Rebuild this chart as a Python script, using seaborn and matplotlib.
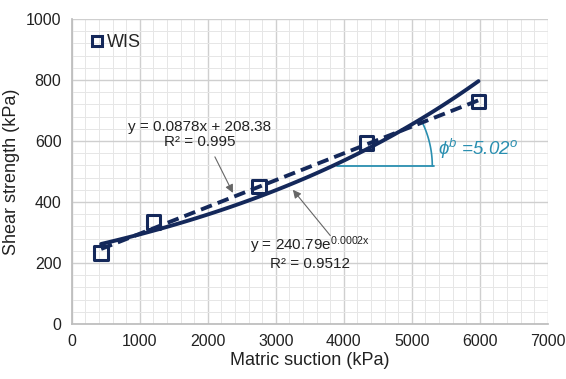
import numpy as np
import pandas as pd
import matplotlib
matplotlib.use("Agg")
import matplotlib.pyplot as plt
import seaborn as sns
from matplotlib.lines import Line2D
from matplotlib.ticker import MultipleLocator

# Data
suction = [430, 1200, 2750, 4330, 5980]
strength = [233, 334, 451, 593, 730]
series_name = "WIS"
lin_slope, lin_icpt = 0.0878, 208.38
exp_a, exp_b = 240.79, 0.0002
lin_label = "y = 0.0878x + 208.38\nR² = 0.995"
exp_label = "y = 240.79e$^{\\mathrm{0.0002x}}$\nR² = 0.9512"
angle_label = "ϕ$^b$ =5.02$^o$"
x_ticks = [0, 1000, 2000, 3000, 4000, 5000, 6000, 7000]
y_ticks = [0, 200, 400, 600, 800, 1000]

sns.set_theme(style="white")
plt.rcParams['font.family'] = ['Liberation Sans', 'DejaVu Sans']
plt.rcParams['mathtext.fontset'] = 'custom'
plt.rcParams['mathtext.rm'] = 'Liberation Sans'
plt.rcParams['mathtext.it'] = 'Liberation Sans:italic'

navy = '#14285a'
teal = '#2a8fb0'

fig = plt.figure(figsize=(5.66, 3.79), dpi=100)
ax = fig.add_axes([0.127, 0.145, 0.841, 0.805])

df = pd.DataFrame({"x": suction, "y": strength})
xs = np.linspace(min(suction), max(suction), 100)
fit = pd.DataFrame({"x": xs,
                    "lin": lin_slope * xs + lin_icpt,
                    "exp": exp_a * np.exp(exp_b * xs)})

sns.lineplot(data=fit, x="x", y="exp", ax=ax, color=navy, lw=2.8, zorder=3)
sns.lineplot(data=fit, x="x", y="lin", ax=ax, color=navy, lw=2.8,
             linestyle=(0, (3, 1.6)), zorder=3)
sns.scatterplot(data=df, x="x", y="y", ax=ax, marker='s', s=95,
                facecolor='none', edgecolor=navy, linewidth=2.2, zorder=4)

ax.set_xlim(0, 7000)
ax.set_ylim(0, 1000)
ax.set_xticks(x_ticks)
ax.set_yticks(y_ticks)
ax.xaxis.set_minor_locator(MultipleLocator(200))
ax.yaxis.set_minor_locator(MultipleLocator(40))
ax.grid(which='major', color='#cfcfcf', lw=1.0)
ax.grid(which='minor', color='#e6e6e6', lw=0.7)
ax.set_axisbelow(True)
for s in ax.spines.values():
    s.set_visible(False)
for side in ('bottom', 'left'):
    ax.spines[side].set_visible(True)
    ax.spines[side].set_color('#bdbdbd')
ax.tick_params(axis='both', which='major', length=4, color='#bdbdbd',
               labelsize=11.5, labelcolor='#222222', direction='out')
ax.tick_params(axis='both', which='minor', length=0)
ax.set_xlabel("Matric suction (kPa)", fontsize=13, color='#222222', labelpad=2)
ax.set_ylabel("Shear strength (kPa)", fontsize=13, color='#222222', labelpad=4)

handle = Line2D([], [], linestyle='none', marker='s', markersize=7,
                markerfacecolor='none', markeredgecolor=navy,
                markeredgewidth=2.2)
ax.legend([handle], [series_name], loc='upper left', frameon=False,
          fontsize=13, handlelength=0.8, handletextpad=0.15,
          bbox_to_anchor=(0.015, 0.985), borderaxespad=0.2)

# Annotations
ax.text(1880, 620, lin_label, ha='center', va='center', fontsize=11,
        color='#222222', linespacing=1.1, multialignment='center')
ax.annotate("", xy=(2368, 430), xytext=(2103, 548),
            arrowprops=dict(arrowstyle='-|>', color='#666666', lw=0.8,
                            mutation_scale=12, shrinkA=0, shrinkB=0))
ax.text(3500, 233, exp_label, ha='center', va='center', fontsize=11,
        color='#222222', linespacing=1.1, multialignment='center')
ax.annotate("", xy=(3250, 440), xytext=(3800, 290),
            arrowprops=dict(arrowstyle='-|>', color='#666666', lw=0.8,
                            mutation_scale=12, shrinkA=0, shrinkB=0))

# angle marker
ax.plot([3900, 5330], [518, 518], color=teal, lw=1.3, zorder=2)
arc_cx, arc_cy, r = 3830, 518, 1470
t = np.linspace(0, np.radians(28), 30)
ax.plot(arc_cx + r * np.cos(t), arc_cy + r * 0.068 / 0.305 * np.sin(t),
        color=teal, lw=1.2)
ax.text(5380, 575, angle_label, fontsize=13.5, color=teal, style='italic',
        va='center', ha='left')

fig.savefig("out.png", dpi=100)
